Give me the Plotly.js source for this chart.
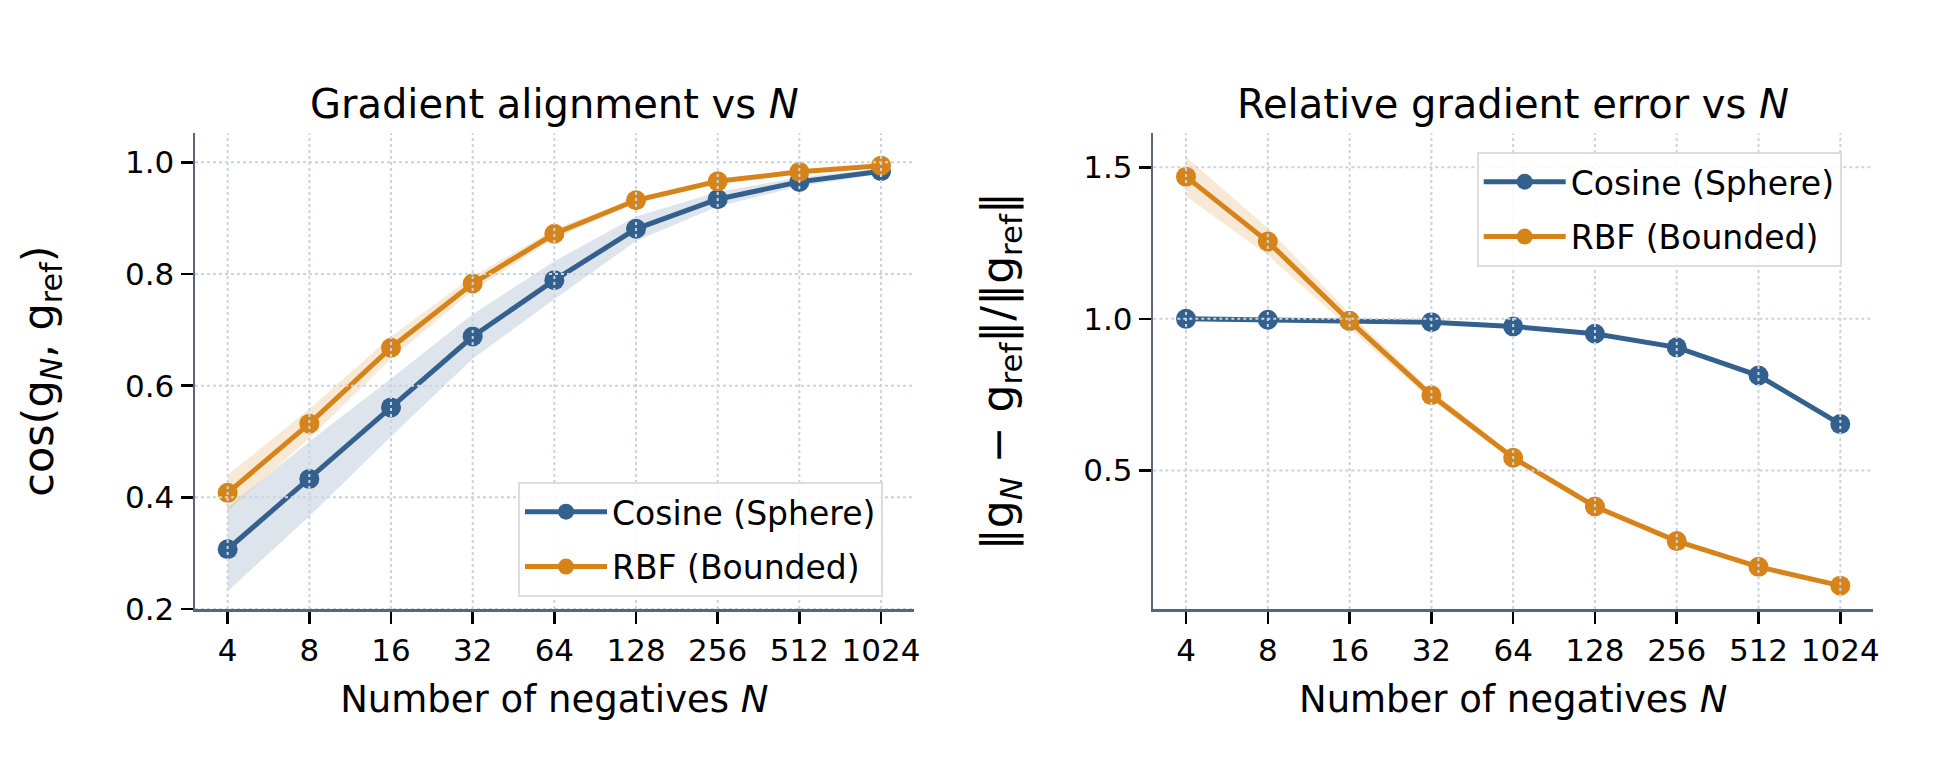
<!DOCTYPE html>
<html>
<head>
<meta charset="utf-8">
<script src="https://cdn.plot.ly/plotly-3.0.1.min.js"></script>
<style>html,body{margin:0;padding:0;background:#fff;}#chart{width:1939px;height:775px;}</style>
</head>
<body>
<div id="chart"></div>
<script>
// ---- data ----
const N = [4, 8, 16, 32, 64, 128, 256, 512, 1024];
const tickLabelsN = ["4", "8", "16", "32", "64", "128", "256", "512", "1024"];

// left: gradient alignment cos(g_N, g_ref)
const cosAlign    = [0.307, 0.433, 0.561, 0.688, 0.789, 0.881, 0.934, 0.965, 0.984];
const cosAlignSd  = [0.075, 0.067, 0.052, 0.040, 0.034, 0.022, 0.013, 0.008, 0.005];
const rbfAlign    = [0.408, 0.532, 0.668, 0.783, 0.872, 0.932, 0.966, 0.983, 0.994];
const rbfAlignSd  = [0.032, 0.026, 0.020, 0.013, 0.008, 0.005, 0.004, 0.003, 0.002];

// right: relative gradient error
const cosRelErr   = [1.000, 0.997, 0.993, 0.989, 0.975, 0.951, 0.906, 0.813, 0.653];
const cosRelErrSd = [0.006, 0.006, 0.006, 0.006, 0.005, 0.005, 0.005, 0.005, 0.005];
const rbfRelErr   = [1.469, 1.255, 0.993, 0.748, 0.542, 0.381, 0.267, 0.182, 0.120];
const rbfRelErrSd = [0.065, 0.045, 0.025, 0.016, 0.010, 0.007, 0.005, 0.004, 0.003];

const yTicksLeft  = [0.2, 0.4, 0.6, 0.8, 1.0];
const yTicksRight = [0.5, 1.0, 1.5];

const seriesNames = ["Cosine (Sphere)", "RBF (Bounded)"];

// ---- styles ----
const BLUE = "#34608d";
const ORANGE = "#d6841a";
const BLUE_FILL = "rgba(52,96,141,0.17)";
const ORANGE_FILL = "rgba(214,132,26,0.18)";
const FONT = "DejaVu Sans";
const GRID = "#c9d4df";
const SPINE = "#5b6577";

function band(x, mean, sd, fill, xa, ya) {
  const up = mean.map((v, i) => v + sd[i]);
  const lo = mean.map((v, i) => v - sd[i]);
  return [
    {x: x, y: up, xaxis: xa, yaxis: ya, mode: "lines", line: {width: 0, color: fill}, hoverinfo: "skip", showlegend: false},
    {x: x, y: lo, xaxis: xa, yaxis: ya, mode: "lines", line: {width: 0, color: fill}, fill: "tonexty", fillcolor: fill, hoverinfo: "skip", showlegend: false}
  ];
}
function line(x, y, name, color, xa, ya, lg, grp) {
  return {x: x, y: y, name: name, xaxis: xa, yaxis: ya, mode: "lines+markers",
    line: {color: color, width: 5}, marker: {color: color, size: 20},
    legend: lg, legendgroup: grp};
}

const traces = [
  ...band(N, cosAlign, cosAlignSd, BLUE_FILL, "x", "y"),
  ...band(N, rbfAlign, rbfAlignSd, ORANGE_FILL, "x", "y"),
  line(N, cosAlign, seriesNames[0], BLUE, "x", "y", "legend", "a"),
  line(N, rbfAlign, seriesNames[1], ORANGE, "x", "y", "legend", "b"),
  ...band(N, cosRelErr, cosRelErrSd, BLUE_FILL, "x2", "y2"),
  ...band(N, rbfRelErr, rbfRelErrSd, ORANGE_FILL, "x2", "y2"),
  line(N, cosRelErr, seriesNames[0], BLUE, "x2", "y2", "legend2", "c"),
  line(N, rbfRelErr, seriesNames[1], ORANGE, "x2", "y2", "legend2", "d"),
];

// gridlines drawn above the traces, from tick arrays
const shapes = [];
function grid(xa, ya, yticks) {
  N.forEach(v => shapes.push({type: "line", layer: "above", xref: xa, yref: ya + " domain", x0: v, x1: v, y0: 0, y1: 1,
    line: {color: GRID, width: 2, dash: "3px,3px"}}));
  yticks.forEach(v => shapes.push({type: "line", layer: "above", xref: xa + " domain", yref: ya, x0: 0, x1: 1, y0: v, y1: v,
    line: {color: GRID, width: 2, dash: "3px,3px"}}));
}
grid("x", "y", yTicksLeft);
grid("x2", "y2", yTicksRight);

const logRange = [1.6 * Math.log10(2), 10.4 * Math.log10(2)];
const xCommon = {
  type: "log", range: logRange, tickvals: N, ticktext: tickLabelsN,
  showgrid: false, zeroline: false, showline: true, linecolor: SPINE, linewidth: 2.5,
  ticks: "outside", ticklen: 12, tickwidth: 2.5, tickcolor: "#000",
  tickfont: {family: FONT, size: 31, color: "#000"},
  title: {text: "Number of negatives <i>N</i>", font: {family: FONT, size: 37, color: "#000"}, standoff: 20}
};
const yCommon = {
  showgrid: false, zeroline: false, showline: true, linecolor: SPINE, linewidth: 2.5,
  ticks: "outside", ticklen: 12, tickwidth: 2.5, tickcolor: "#000", tickformat: ".1f",
  tickfont: {family: FONT, size: 31, color: "#000"}
};

const legendCommon = {xanchor: "left", yanchor: "top", xref: "paper", yref: "paper",
  bgcolor: "rgba(255,255,255,0.85)", bordercolor: "#dddddd", borderwidth: 2,
  font: {family: FONT, size: 33, color: "#000"}, itemwidth: 82, tracegroupgap: 9};

const layout = {
  width: 1939, height: 775,
  margin: {l: 0, r: 0, t: 0, b: 0},
  paper_bgcolor: "#ffffff", plot_bgcolor: "#ffffff",
  font: {family: FONT, color: "#000"},
  xaxis: Object.assign({}, xCommon, {domain: [195 / 1939, 913.7 / 1939], anchor: "y"}),
  yaxis: Object.assign({}, yCommon, {domain: [(775 - 609) / 775, (775 - 133.3) / 775], anchor: "x",
    range: [0.2, 1.052], tickvals: yTicksLeft,
    title: {text: "cos(g<sub><i>N</i></sub>, g<sub>ref</sub>)", font: {family: FONT, size: 43, color: "#000"}, standoff: 58}}),
  xaxis2: Object.assign({}, xCommon, {domain: [1153.3 / 1939, 1873 / 1939], anchor: "y2"}),
  yaxis2: Object.assign({}, yCommon, {domain: [(775 - 609) / 775, (775 - 133.3) / 775], anchor: "x2",
    range: [0.043, 1.612], tickvals: yTicksRight,
    title: {text: "‖g<sub><i>N</i></sub> − g<sub>ref</sub>‖/‖g<sub>ref</sub>‖", font: {family: FONT, size: 44, color: "#000"}, standoff: 56}}),
  legend: Object.assign({}, legendCommon, {x: 518 / 1939, y: (775 - 481.7) / 775}),
  legend2: Object.assign({}, legendCommon, {x: 1476.7 / 1939, y: (775 - 151.7) / 775}),
  shapes: shapes,
  annotations: [
    {text: "Gradient alignment vs <i>N</i>", xref: "x domain", yref: "paper", x: 0.5, y: (775 - 104) / 775,
      xanchor: "center", yanchor: "middle", showarrow: false, font: {family: FONT, size: 40, color: "#000"}},
    {text: "Relative gradient error vs <i>N</i>", xref: "x2 domain", yref: "paper", x: 0.5, y: (775 - 104) / 775,
      xanchor: "center", yanchor: "middle", showarrow: false, font: {family: FONT, size: 40, color: "#000"}}
  ]
};

Plotly.newPlot("chart", traces, layout, {staticPlot: true, displayModeBar: false});
</script>
</body>
</html>
